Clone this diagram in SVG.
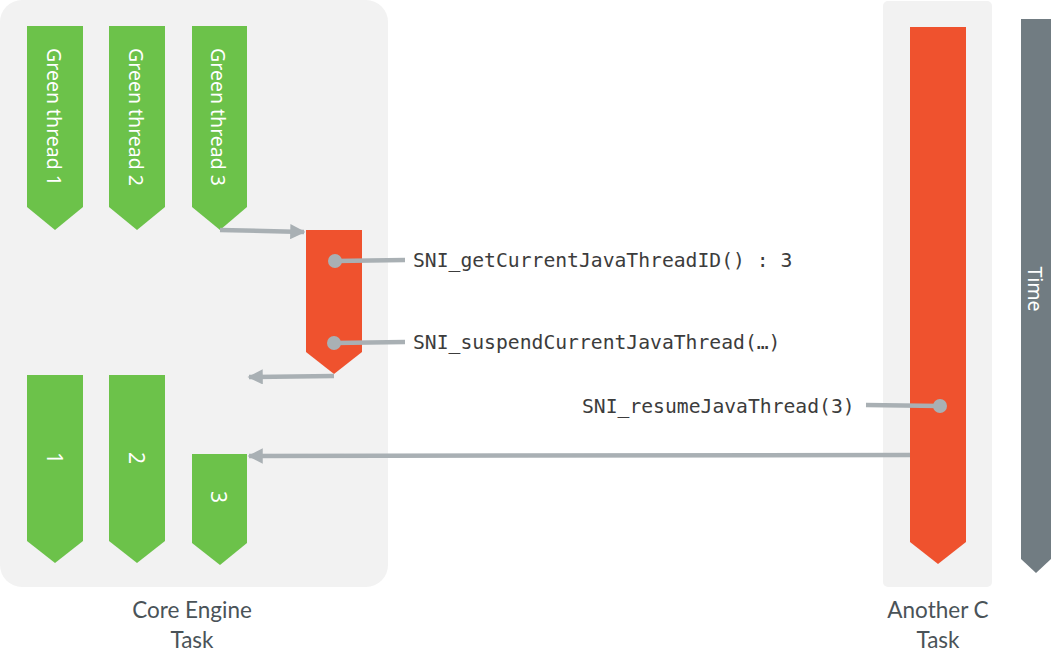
<svg xmlns="http://www.w3.org/2000/svg" width="1056" height="671" viewBox="0 0 1056 671">
<defs>
<style>
.panel{fill:#f2f2f2}
.green{fill:#6cc24a}
.red{fill:#ef522e}
.time{fill:#717c82}
.vt{fill:#fff;font-family:"Noto Sans","Open Sans",sans-serif;font-size:19.5px}
.num{font-size:21px}
.lbl{fill:#4a5358;font-family:Lato,"Open Sans",sans-serif;font-size:22.5px;text-anchor:middle}
.mono{fill:#3c3c3c;font-family:"DejaVu Sans Mono","Liberation Mono",monospace;font-size:19.7px}
.ln{stroke:#a9b0b4;stroke-width:4.5;fill:none}
.dot{fill:#a9b0b4}
</style>
<marker id="ah" viewBox="0 0 10 10" refX="9" refY="5" markerWidth="3.4" markerHeight="3.4" orient="auto" markerUnits="strokeWidth">
<path d="M0,0 L10,5 L0,10 z" fill="#a9b0b4"/>
</marker>
</defs>
<g id="core-engine-task">
<rect class="panel" x="0" y="0" width="388" height="587" rx="22"/>
<text class="lbl" x="192" y="618">Core Engine</text>
<text class="lbl" x="192" y="648">Task</text>
</g>
<g id="another-c-task">
<rect class="panel" x="883" y="1" width="109" height="586" rx="5"/>
<text class="lbl" x="938" y="618">Another C</text>
<text class="lbl" x="938" y="648">Task</text>
</g>
<g id="green-thread-1">
<path class="green" d="M27,26 H83 V207 L55,230 L27,207 Z"/>
<text class="vt" transform="translate(47,117) rotate(90)" text-anchor="middle">Green thread 1</text>
</g>
<g id="green-thread-2">
<path class="green" d="M109,26 H165 V207 L137,230 L109,207 Z"/>
<text class="vt" transform="translate(129,117) rotate(90)" text-anchor="middle">Green thread 2</text>
</g>
<g id="green-thread-3">
<path class="green" d="M192,26 H247 V207 L220,230 L192,207 Z"/>
<text class="vt" transform="translate(211,117) rotate(90)" text-anchor="middle">Green thread 3</text>
</g>
<g id="native-call">
<path class="red" d="M306,230 H362 V352 L334,374 L306,352 Z"/>
</g>
<g id="thread-1">
<path class="green" d="M27,375 H83 V541 L55,563 L27,541 Z"/>
<text class="vt num" transform="translate(47,458) rotate(90)" text-anchor="middle">1</text>
</g>
<g id="thread-2">
<path class="green" d="M109,375 H165 V541 L137,563 L109,541 Z"/>
<text class="vt num" transform="translate(129,458) rotate(90)" text-anchor="middle">2</text>
</g>
<g id="thread-3">
<path class="green" d="M192,454 H247 V543 L220,565 L192,543 Z"/>
<text class="vt num" transform="translate(211,497) rotate(90)" text-anchor="middle">3</text>
</g>
<g id="c-task-bar">
<path class="red" d="M910,27 H966 V542 L938,564 L910,542 Z"/>
</g>
<g id="time-axis">
<path class="time" d="M1021,19 H1051 V559 L1036,573 L1021,559 Z"/>
<text class="vt" transform="translate(1028,289) rotate(90)" text-anchor="middle">Time</text>
</g>
<g id="connectors">
<path class="ln" d="M220,230 L304,232" marker-end="url(#ah)"/>
<path class="ln" d="M334,376 L249,377" marker-end="url(#ah)"/>
<path class="ln" d="M910,455 L249,456" marker-end="url(#ah)"/>
<path class="ln" d="M335,261 L405,260"/>
<circle class="dot" cx="335" cy="261" r="7"/>
<path class="ln" d="M334,343 L405,342"/>
<circle class="dot" cx="334" cy="343" r="7"/>
<path class="ln" d="M866,405 L940,406"/>
<circle class="dot" cx="940" cy="406" r="7"/>
</g>
<g id="labels">
<text class="mono" x="413" y="267">SNI_getCurrentJavaThreadID() : 3</text>
<text class="mono" x="413" y="349">SNI_suspendCurrentJavaThread(…)</text>
<text class="mono" x="582" y="413">SNI_resumeJavaThread(3)</text>
</g>
</svg>
